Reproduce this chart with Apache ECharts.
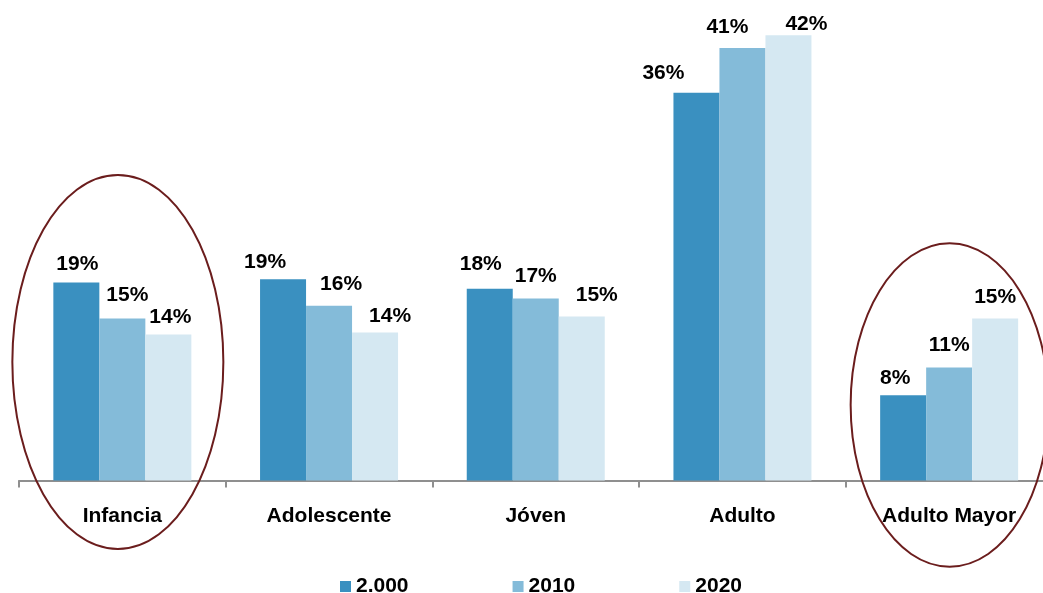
<!DOCTYPE html>
<html>
<head>
<meta charset="utf-8">
<style>html,body{margin:0;padding:0;background:#fff;}#c{width:1043px;height:593px;}</style>
<script src="https://cdn.jsdelivr.net/npm/echarts@6/dist/echarts.min.js"></script>
</head>
<body>
<div id="c"></div>
<script>
const categories = ['Infancia', 'Adolescente', 'Jóven', 'Adulto', 'Adulto Mayor'];
const seriesNames = ['2.000', '2010', '2020'];
const values2000 = [18.6, 18.9, 18.0, 36.4, 8.0];
const values2010 = [15.2, 16.4, 17.1, 40.6, 10.6];
const values2020 = [13.7, 13.9, 15.4, 41.8, 15.2];

// label nudges (style only): [dx, gap above bar]
const nudges = [
  [[1, 12], [-18, 11], [-9, 18], [-33, 13], [-8, 11]],
  [[5, 17], [12, 15.6], [0, 16], [-15, 14.7], [0, 15.6]],
  [[2, 11], [15, 9.3], [15, 15], [18, 4.6], [0, 15]]
];
const colors = ['#3a90c0', '#84bbd9', '#d5e8f2'];
const FONT = '"Liberation Sans", Arial, sans-serif';
const LIFT = 4;

const chart = echarts.init(document.getElementById('c'), null, {renderer: 'canvas'});
const all = [values2000, values2010, values2020];

const series = all.map((vals, si) => ({
  name: seriesNames[si],
  type: 'bar',
  barWidth: 46,
  barGap: '0%',
  itemStyle: {color: colors[si]},
  data: vals.map((v, i) => ({
    value: v,
    label: {offset: [nudges[si][i][0], -(nudges[si][i][1] - LIFT)]}
  })),
  label: {
    show: true,
    position: 'top',
    distance: 0,
    formatter: p => Math.round(p.value) + '%',
    fontFamily: FONT,
    fontWeight: 'bold',
    fontSize: 21,
    color: '#000'
  }
}));

const option = {
  animation: false,
  backgroundColor: '#fff',
  grid: {left: 19, width: 1033.5, top: 11.9, height: 468.6, outerBoundsMode: 'none', containLabel: false},
  xAxis: {
    type: 'category',
    data: categories,
    axisLine: {lineStyle: {color: '#8f8f8f', width: 2}},
    axisTick: {show: true, length: 7, lineStyle: {color: '#8f8f8f', width: 2}},
    axisLabel: {
      interval: 0,
      margin: 25,
      fontFamily: FONT,
      fontWeight: 'bold',
      fontSize: 21,
      color: '#000'
    }
  },
  yAxis: {
    type: 'value',
    min: 0,
    max: 44,
    show: false,
    splitLine: {show: false}
  },
  legend: {
    data: seriesNames,
    left: 335,
    top: 571,
    itemWidth: 11,
    itemHeight: 11,
    itemGap: 104,
    icon: 'rect',
    textStyle: {fontFamily: FONT, fontWeight: 'bold', fontSize: 21, color: '#000'}
  },
  series: series
};
chart.setOption(option);

const ellipseColor = '#6b1d1d';
const cx0 = chart.convertToPixel({xAxisIndex: 0}, 'Infancia');
const cx4 = chart.convertToPixel({xAxisIndex: 0}, 'Adulto Mayor');
chart.setOption({
  graphic: [
    {type: 'ellipse', z: 100, shape: {cx: cx0 - 4.5, cy: 362, rx: 105.5, ry: 187},
     style: {fill: 'none', stroke: ellipseColor, lineWidth: 2}},
    {type: 'ellipse', z: 100, shape: {cx: cx4 + 0.5, cy: 405, rx: 99, ry: 161.7},
     style: {fill: 'none', stroke: ellipseColor, lineWidth: 2}}
  ]
});
</script>
</body>
</html>
